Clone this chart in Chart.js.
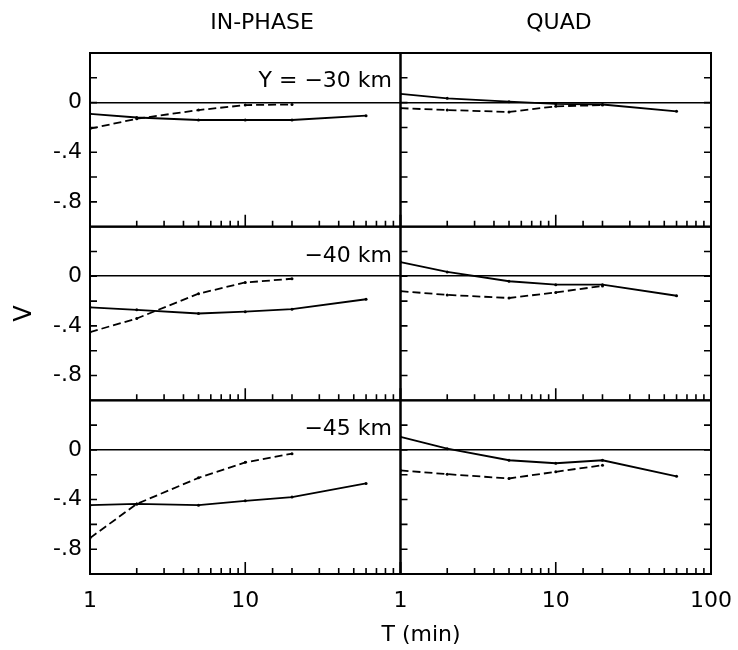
<!DOCTYPE html>
<html>
<head>
<meta charset="utf-8">
<script src="https://cdn.jsdelivr.net/npm/chart.js@4.4.1/dist/chart.umd.min.js"></script>
<style>
  html, body { margin: 0; padding: 0; background: #fff; }
  #wrap { position: relative; width: 738px; height: 650px; font-family: 'DejaVu Sans', sans-serif; color: #000; }
  #wrap canvas { position: absolute; left: 0; top: 0; }
  .lbl { position: absolute; font-size: 22px; line-height: 22px; white-space: nowrap; }
  .mid { transform: translateX(-50%); }
</style>
</head>
<body>
<div id="wrap">
  <canvas id="chart" width="738" height="650"></canvas>
  <div class="lbl mid" style="left:262px; top:11px;">IN-PHASE</div>
  <div class="lbl mid" style="left:559px; top:11px;">QUAD</div>
  <div class="lbl" style="right:346px; top:69px;">Y = −30 km</div>
  <div class="lbl" style="right:346px; top:244px;">−40 km</div>
  <div class="lbl" style="right:346px; top:417px;">−45 km</div>
  <div class="lbl mid" style="left:421px; top:623px;">T (min)</div>
</div>
<script>
// periods in minutes, solid curves use all six, dashed ones the first five
const periods = [1, 2, 5, 10, 20, 60];

const inPhase30Solid = [-0.09, -0.12, -0.14, -0.14, -0.14, -0.105];
const inPhase30Dashed = [-0.21, -0.13, -0.06, -0.02, -0.015];
const quad30Solid = [0.07, 0.035, 0.008, -0.01, -0.015, -0.07];
const quad30Dashed = [-0.045, -0.06, -0.075, -0.03, -0.02];

const inPhase40Solid = [-0.25, -0.27, -0.30, -0.285, -0.265, -0.185];
const inPhase40Dashed = [-0.45, -0.34, -0.14, -0.05, -0.02];
const quad40Solid = [0.115, 0.035, -0.04, -0.068, -0.068, -0.157];
const quad40Dashed = [-0.12, -0.15, -0.175, -0.13, -0.078];

const inPhase45Solid = [-0.445, -0.435, -0.445, -0.41, -0.38, -0.27];
const inPhase45Dashed = [-0.71, -0.435, -0.225, -0.10, -0.03];
const quad45Solid = [0.105, 0.01, -0.083, -0.107, -0.083, -0.213];
const quad45Dashed = [-0.165, -0.195, -0.23, -0.176, -0.123];

// tick labels
const yTickValues = [0, -0.4, -0.8];
const yTickLabels = ['0', '-.4', '-.8'];
const xTickValuesLeft = [1, 10];
const xTickValuesRight = [1, 10, 100];

const findLabel = (value, values, labels) => {
  const i = values.findIndex(v => Math.abs(v - value) < 1e-9);
  return i >= 0 ? labels[i] : '';
};

const makeSeries = (values, xId, yId, dashed) => ({
  data: values.map((v, i) => ({ x: periods[i], y: v })),
  xAxisID: xId,
  yAxisID: yId,
  borderColor: '#000',
  backgroundColor: '#000',
  borderWidth: 1.8,
  borderDash: dashed ? [8, 4] : [],
  pointRadius: 1.5,
  pointHoverRadius: 1.5,
  pointBorderWidth: 0,
  tension: 0,
  fill: false,
});

const makeY = (weight, title) => ({
  type: 'linear',
  position: 'left',
  stack: 'rows',
  stackWeight: 1,
  weight: weight,
  min: -1.0,
  max: 0.4,
  ticks: {
    stepSize: 0.2,
    autoSkip: false,
    padding: 8,
    color: '#000',
    font: { size: 22 },
    callback: v => findLabel(v, yTickValues, yTickLabels),
  },
  grid: {
    drawTicks: false,
    lineWidth: 1.6,
    color: c => (c.tick && Math.abs(c.tick.value) < 1e-9 ? '#000' : 'rgba(0,0,0,0)'),
  },
  border: { display: false },
  title: {
    display: !!title,
    text: title || '',
    color: '#000',
    font: { size: 24 },
    padding: { top: 10, bottom: 0 },
  },
  afterFit: s => { s.width = 90; },
});

const makeX = (weight, tickValues) => ({
  type: 'logarithmic',
  position: 'bottom',
  stack: 'cols',
  stackWeight: 1,
  weight: weight,
  min: 1,
  max: 100,
  ticks: {
    autoSkip: false,
    maxRotation: 0,
    padding: 6,
    color: '#000',
    font: { size: 22 },
    callback: v => findLabel(v, tickValues, tickValues.map(String)),
  },
  grid: { display: false },
  border: { display: false },
  afterFit: s => { s.height = 76; },
});

// frames of the six panels plus inward tick marks
const panelFrames = {
  id: 'panelFrames',
  afterDatasetsDraw(chart) {
    const ctx = chart.ctx;
    const cols = [chart.scales.xL, chart.scales.xR];
    const rows = [chart.scales.y1, chart.scales.y2, chart.scales.y3];
    ctx.save();
    ctx.strokeStyle = '#000';
    rows.forEach(ys => {
      cols.forEach((xs, col) => {
        ctx.lineWidth = 2;
        ctx.strokeRect(xs.left, ys.top, xs.right - xs.left, ys.bottom - ys.top);
        ctx.lineWidth = 1.6;
        ctx.beginPath();
        xs.ticks.forEach(t => {
          const px = xs.getPixelForValue(t.value);
          const lg = Math.log10(t.value);
          const len = Math.abs(lg - Math.round(lg)) < 1e-9 ? 12 : 6;
          ctx.moveTo(px, ys.bottom);
          ctx.lineTo(px, ys.bottom - len);
        });
        ys.ticks.forEach(t => {
          if (t.value <= ys.min + 1e-9 || t.value >= ys.max - 1e-9) return;
          const py = ys.getPixelForValue(t.value);
          ctx.moveTo(xs.left, py);
          ctx.lineTo(xs.left + 7, py);
          if (col === 1) {
            ctx.moveTo(xs.right, py);
            ctx.lineTo(xs.right - 7, py);
          }
        });
        ctx.stroke();
      });
    });
    ctx.restore();
  },
};

Chart.defaults.font.family = "'DejaVu Sans', sans-serif";
Chart.defaults.color = '#000';

new Chart(document.getElementById('chart'), {
  type: 'line',
  data: {
    datasets: [
      makeSeries(inPhase30Solid, 'xL', 'y1', false),
      makeSeries(inPhase30Dashed, 'xL', 'y1', true),
      makeSeries(quad30Solid, 'xR', 'y1', false),
      makeSeries(quad30Dashed, 'xR', 'y1', true),
      makeSeries(inPhase40Solid, 'xL', 'y2', false),
      makeSeries(inPhase40Dashed, 'xL', 'y2', true),
      makeSeries(quad40Solid, 'xR', 'y2', false),
      makeSeries(quad40Dashed, 'xR', 'y2', true),
      makeSeries(inPhase45Solid, 'xL', 'y3', false),
      makeSeries(inPhase45Dashed, 'xL', 'y3', true),
      makeSeries(quad45Solid, 'xR', 'y3', false),
      makeSeries(quad45Dashed, 'xR', 'y3', true),
    ],
  },
  options: {
    responsive: false,
    animation: false,
    events: [],
    layout: { padding: { top: 53, right: 23, bottom: 0, left: 0 } },
    plugins: { legend: { display: false }, tooltip: { enabled: false } },
    scales: {
      xL: makeX(1, xTickValuesLeft),
      xR: makeX(2, xTickValuesRight),
      y1: makeY(3),
      y2: makeY(2, 'V'),
      y3: makeY(1),
    },
  },
  plugins: [panelFrames],
});
</script>
</body>
</html>
